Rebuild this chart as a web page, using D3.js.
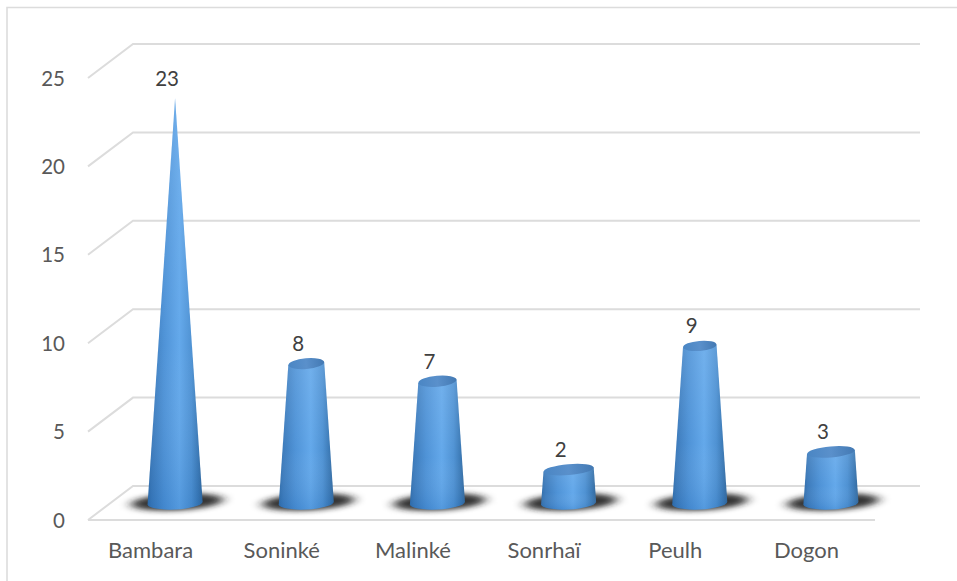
<!DOCTYPE html>
<html>
<head>
<meta charset="utf-8">
<script src="https://cdn.jsdelivr.net/npm/d3@7"></script>
<style>
html,body{margin:0;padding:0;background:#fff}
svg{display:block}
text{font-family:Lato,"Open Sans",sans-serif}
</style>
</head>
<body>
<svg id="chart" width="957" height="581"></svg>
<script>
// Ethnic groups and their counts
const categories = ["Bambara","Soninké","Malinké","Sonrhaï","Peulh","Dogon"];
const counts = [23,8,7,2,9,3];
const yTicks = [0,5,10,15,20,25];

const svg = d3.select("#chart");
const defs = svg.append("defs");

// Chart-area frame, open towards the right and bottom edges
svg.append("path").attr("d","M7,581V7.5H957").attr("fill","none")
  .attr("stroke","#dcdcdc").attr("stroke-width",1.6);

// Front and back planes of the 3-D box
const yFront = d3.scaleLinear().domain([0,25]).range([520,78]);
const yBack  = d3.scaleLinear().domain([0,25]).range([486,44]);
const yCone  = d3.scaleLinear().domain([0,25]).range([505,63]);
const xFront = d3.scaleBand().domain(categories).range([88,875]);
const xCone  = d3.scaleBand().domain(categories).range([109.5,896.5]);
const xBackL = 133, xBackR = 920, xFrontL = 88;
const baseRadius = d3.scaleLinear().domain([0,23]).range([27.5,0]);

const grid = svg.append("g").attr("fill","none").attr("stroke","#dcdcdc").attr("stroke-width",2);
yTicks.forEach(t=>{
  grid.append("path").attr("d",d3.line()([[xFrontL,yFront(t)],[xBackL,yBack(t)],[xBackR,yBack(t)]]));
});
grid.append("line").attr("x1",xFrontL).attr("x2",875).attr("y1",yFront(0)).attr("y2",yFront(0));

// Tick labels
svg.append("g").selectAll("text").data(yTicks).join("text")
  .attr("x",65).attr("y",d=>yFront(d)+7.5).attr("text-anchor","end")
  .attr("font-size",20.5).attr("fill","#595959").text(d=>d);
svg.append("g").selectAll("text").data(categories).join("text")
  .attr("x",d=>xFront(d)+xFront.bandwidth()/2-3).attr("y",558).attr("text-anchor","middle")
  .attr("font-size",22).attr("fill","#595959").text(d=>d);

// Cone paint: rounded shading across, paler towards the top
const side = defs.append("linearGradient").attr("id","coneSide").attr("x1",0).attr("x2",1).attr("y1",0).attr("y2",0);
[[0,"#2c6aa8"],[.08,"#3878ba"],[.3,"#4a90d6"],[.58,"#5fa6ea"],[.8,"#4a8fd2"],[.92,"#3676b4"],[1,"#2e6498"]]
  .forEach(([o,c])=>side.append("stop").attr("offset",o).attr("stop-color",c));
const cap = defs.append("linearGradient").attr("id","coneCap").attr("x1",0).attr("x2",1).attr("y1",0).attr("y2",0);
[[0,"#4a86c4"],[.5,"#5a90cb"],[1,"#4379b3"]]
  .forEach(([o,c])=>cap.append("stop").attr("offset",o).attr("stop-color",c));
const sheen = defs.append("linearGradient").attr("id","coneSheen").attr("x1",0).attr("x2",0).attr("y1",0).attr("y2",1);
[[0,"#ffffff",.12],[.6,"#ffffff",.03],[1,"#1c5ea8",.18]]
  .forEach(([o,c,a])=>sheen.append("stop").attr("offset",o).attr("stop-color",c).attr("stop-opacity",a));
const soft = defs.append("filter").attr("id","floorBlur").attr("x","-30%").attr("y","-80%").attr("width","160%").attr("height","260%");
soft.append("feGaussianBlur").attr("stdDeviation","6 2.8");

const rows = categories.map((c,i)=>({c,v:counts[i]}));
const cones = svg.append("g").selectAll("g").data(rows).join("g")
  .attr("transform",d=>`translate(${xCone(d.c)+xCone.bandwidth()/2},0)`);

// Floor shadow
cones.append("ellipse").attr("cx",2).attr("cy",yCone(0)-3).attr("rx",46).attr("ry",8.5)
  .attr("transform",`rotate(-3 2 ${yCone(0)-3})`).attr("fill","#1f1f1f").attr("fill-opacity",.9)
  .attr("filter","url(#floorBlur)");

// Body
const tilt = -5;
const conePath = d=>{
  const R = baseRadius(0), r = baseRadius(d.v), y0 = yCone(0), y1 = yCone(d.v);
  const dy = r*Math.sin(tilt*Math.PI/180), dyB = R*Math.sin(-3*Math.PI/180);
  return `M${-R},${y0-dyB-2}A${R},6.5 -3 0 0 ${R},${y0+dyB-2}L${r},${y1+dy}L${-r},${y1-dy}Z`;
};
cones.append("path").attr("fill","url(#coneSide)").attr("d",conePath);
cones.append("path").attr("fill","url(#coneSheen)").attr("d",conePath);

// Top cap
cones.filter(d=>baseRadius(d.v)>0).append("ellipse")
  .attr("cx",0).attr("cy",d=>yCone(d.v)).attr("rx",d=>baseRadius(d.v)).attr("ry",d=>Math.min(5.5,baseRadius(d.v)*.3))
  .attr("transform",d=>`rotate(${tilt} 0 ${yCone(d.v)})`).attr("fill","url(#coneCap)");

// Value labels
svg.append("g").selectAll("text").data(rows).join("text")
  .attr("x",d=>xCone(d.c)+xCone.bandwidth()/2-8).attr("y",d=>yCone(d.v)-12.5).attr("text-anchor","middle")
  .attr("font-size",20.5).attr("fill","#404040").text(d=>d.v);
</script>
</body>
</html>
